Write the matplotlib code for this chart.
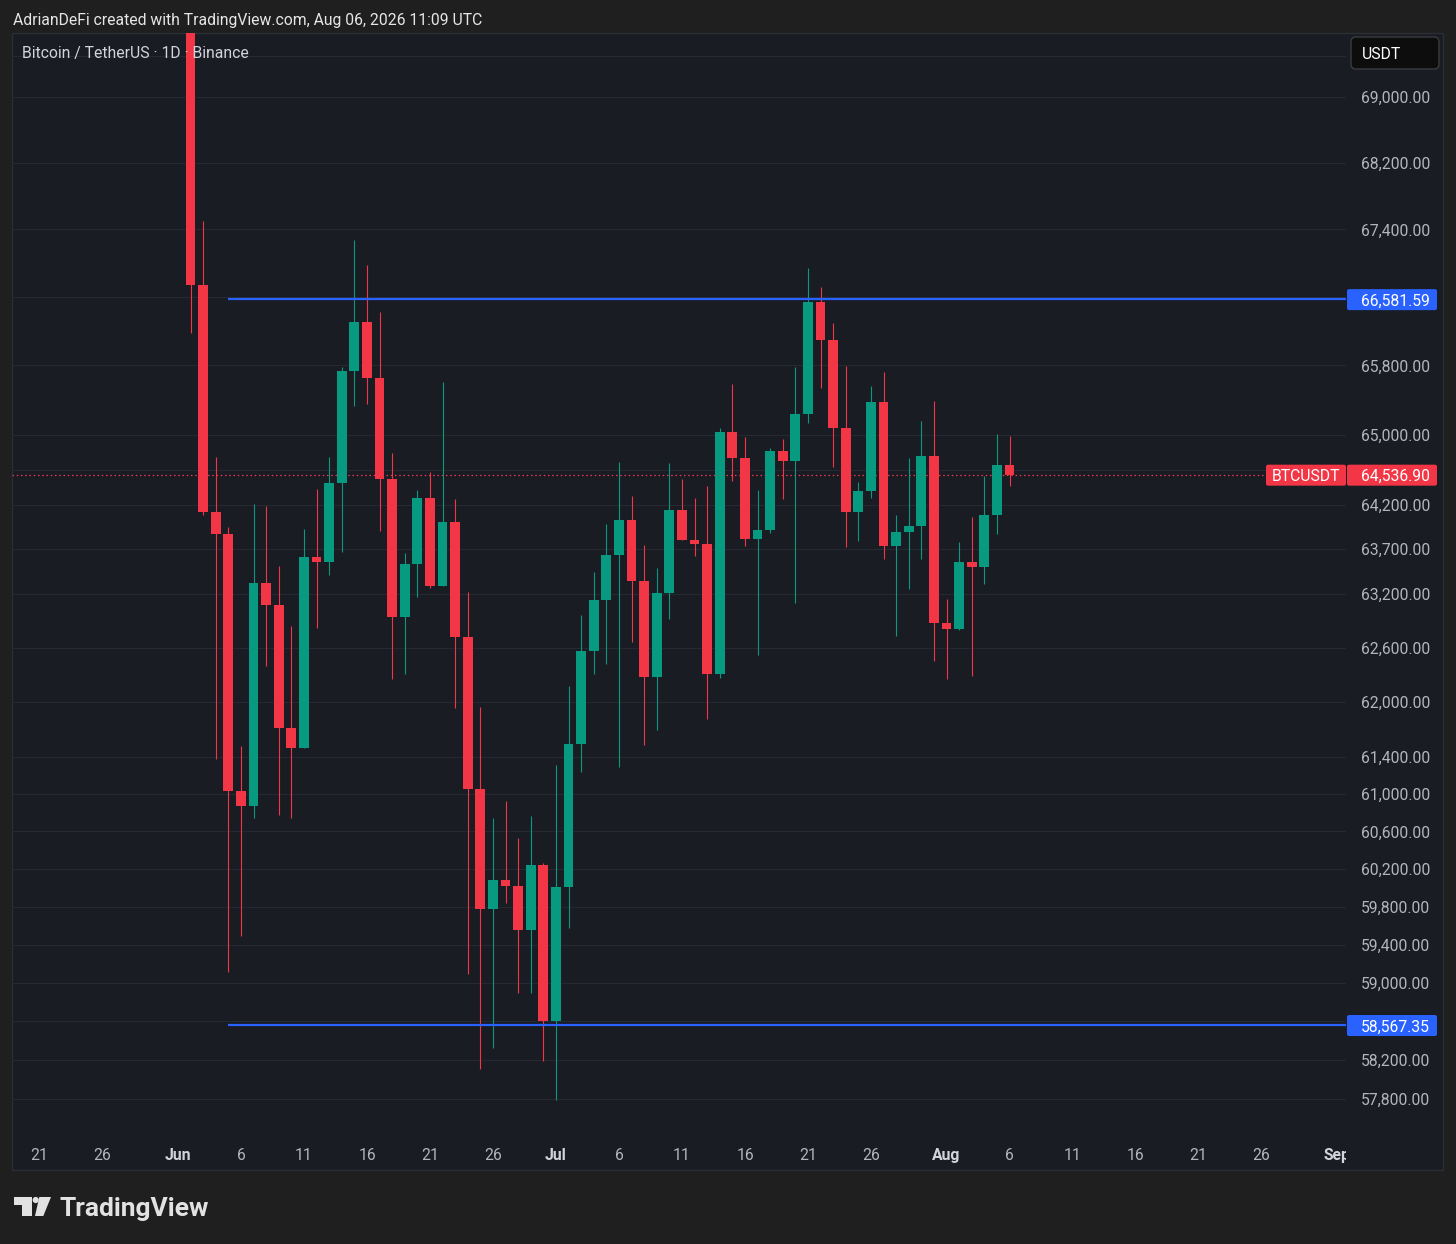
import numpy as np
import pandas as pd
import matplotlib
matplotlib.use('Agg')
import matplotlib.pyplot as plt
import matplotlib.dates as mdates
from matplotlib.patches import Rectangle, FancyBboxPatch, Polygon, Circle
from matplotlib.transforms import IdentityTransform, blended_transform_factory, offset_copy
from matplotlib.ticker import NullLocator

plt.rcParams['font.family'] = ['Roboto', 'DejaVu Sans']

# BTCUSDT daily candles, 2 Jun - 6 Aug 2026
dates = pd.date_range('2026-06-02', '2026-08-06', freq='D')
opens = np.array([
    70250, 66742, 64124, 63870, 61034, 60873, 63320, 63074, 61717, 61500,
    63611, 63560, 64444, 65733, 66307, 65658, 64493, 62936, 63532, 64281,
    63289, 64002, 62715, 61059, 59776, 60082, 60015, 59557, 60241, 58607,
    60007, 61543, 62563, 63130, 63634, 64028, 63345, 62273, 63211, 64141,
    63802, 63761, 62312, 65028, 64736, 63814, 63915, 64816, 64702, 65238,
    66539, 66097, 65080, 64122, 64360, 65379, 63738, 63896, 63963, 64759,
    62870, 62807, 63555, 63498, 64084, 64649])
highs = np.array([
    70600, 67501, 64748, 63949, 61522, 64209, 64186, 63510, 62840, 63926,
    64379, 64740, 65779, 67275, 66978, 66428, 64786, 63653, 64368, 64569,
    65605, 64262, 63222, 61947, 60745, 60927, 60530, 60766, 60260, 61315,
    62177, 62962, 63446, 63982, 64683, 64300, 63746, 63484, 64679, 64489,
    64277, 64413, 65080, 65585, 64977, 64368, 64843, 64951, 65786, 66939,
    66722, 66299, 65794, 64462, 65562, 65728, 64081, 64729, 65157, 65387,
    63137, 63777, 64065, 64527, 65008, 64982])
lows = np.array([
    66177, 64084, 61380, 59114, 59491, 60745, 62398, 60776, 60745, 61500,
    62818, 63406, 63664, 65333, 65349, 63900, 62257, 62306, 63166, 63260,
    63289, 61933, 59093, 58106, 58329, 59842, 58892, 58892, 58189, 57792,
    59578, 61236, 62314, 62420, 61297, 62660, 61532, 61696, 62917, 63802,
    63626, 61816, 62262, 64473, 63738, 62519, 63878, 64269, 63093, 65138,
    65542, 64633, 63727, 63791, 64281, 63592, 62729, 63252, 63589, 62453,
    62257, 62796, 62287, 63308, 63870, 64416])
closes = np.array([
    66742, 64124, 63870, 61034, 60873, 63320, 63074, 61717, 61500, 63611,
    63560, 64444, 65733, 66307, 65658, 64493, 62936, 63532, 64281, 63289,
    64002, 62715, 61059, 59776, 60082, 60015, 59557, 60241, 58607, 60007,
    61543, 62563, 63130, 63634, 64028, 63345, 62273, 63211, 64141, 63802,
    63761, 62312, 65028, 64736, 63814, 63915, 64816, 64702, 65238, 66539,
    66097, 65080, 64122, 64360, 65379, 63738, 63896, 63963, 64759, 62870,
    62807, 63555, 63498, 64084, 64649, 64536.9])

levels = [66581.59, 58567.35]
level_start = pd.Timestamp('2026-06-05')
last_price = 64536.90

grid_prices = [69500, 69000, 68200, 67400, 66600, 65800, 65000, 64600, 64200,
               63700, 63200, 62600, 62000, 61400, 61000, 60600, 60200, 59800,
               59400, 59000, 58600, 58200, 57800]
label_prices = [69000, 68200, 67400, 65800, 65000, 64200, 63700, 63200, 62600,
                62000, 61400, 61000, 60600, 60200, 59800, 59400, 59000, 58200,
                57800]

tick_dates = pd.to_datetime([
    '2026-05-21', '2026-05-26', '2026-06-01', '2026-06-06', '2026-06-11',
    '2026-06-16', '2026-06-21', '2026-06-26', '2026-07-01', '2026-07-06',
    '2026-07-11', '2026-07-16', '2026-07-21', '2026-07-26', '2026-08-01',
    '2026-08-06', '2026-08-11', '2026-08-16', '2026-08-21', '2026-08-26',
    '2026-09-01'])
tick_labels = ['21', '26', 'Jun', '6', '11', '16', '21', '26', 'Jul', '6', '11',
               '16', '21', '26', 'Aug', '6', '11', '16', '21', '26', 'Sep']

OUTER = '#1f1f1f'
PANEL = '#1a1c24'
GRID = '#262931'
RED = '#f23645'
GREEN = '#089981'
BLUE = '#2962ff'
AXTXT = '#b2b5be'
FS = 11.3
DY = 1.5  # visual centring of text, px

W, H = 1456, 1244
fig = plt.figure(figsize=(W / 100, H / 100), dpi=100, facecolor=OUTER)
ident = IdentityTransform()


def box(x0, y0, x1, y1, fc, ec='none', r=0, z=3):
    if r:
        p = FancyBboxPatch((x0, H - y1), x1 - x0, y1 - y0,
                           boxstyle=f'round,pad=0,rounding_size={r}',
                           fc=fc, ec=ec, lw=1, transform=ident, zorder=z)
    else:
        p = Rectangle((x0, H - y1), x1 - x0, y1 - y0, fc=fc, ec=ec, lw=1,
                      transform=ident, zorder=z)
    fig.add_artist(p)


def ftext(x, y, s, **kw):
    kw.setdefault('zorder', 5)
    if kw.get('va') == 'center':
        y = y + DY
    fig.text(x / W, 1 - y / H, s, **kw)


# chart panel
box(12, 33, 1443, 1170, PANEL, ec='#2c2e35', z=-1)

x0, x1 = 12, 1346
ytop, ybot = 33, 1137
ax = fig.add_axes([x0 / W, 1 - ybot / H, (x1 - x0) / W, (ybot - ytop) / H])
ax.set_facecolor('none')
for s in ax.spines.values():
    s.set_visible(False)
ax.set_yscale('log')
ax.set_ylim(57415, 69781)
day0 = mdates.date2num(pd.Timestamp('2026-06-01'))
ax.set_xlim(day0 - 13.17, day0 + 92.70)
ax.set_yticks(grid_prices)
ax.yaxis.set_minor_locator(NullLocator())
ax.set_xticks([])
ax.tick_params(left=False, bottom=False, labelleft=False, labelbottom=False)
ax.grid(axis='y', color=GRID, lw=0.8)

xs = mdates.date2num(dates)
up = closes >= opens
col = np.where(up, GREEN, RED)
ax.vlines(xs, lows, highs, colors=col, lw=0.8, zorder=2)
ax.bar(xs, np.abs(closes - opens), bottom=np.minimum(opens, closes),
       width=0.78, color=col, lw=0, zorder=3)

ax.axhline(last_price, color=RED, lw=0.9, ls=(0, (1.2, 2.2)), zorder=1)
ax.hlines(levels, mdates.date2num(level_start), ax.get_xlim()[1],
          colors=BLUE, lw=1.6, zorder=4)

tr = offset_copy(blended_transform_factory(ax.transAxes, ax.transData),
                 fig=fig, y=-DY, units='dots')
lab_x = (1430 - x0) / (x1 - x0)
for p in label_prices:
    ax.text(lab_x, p, f'{p:,.2f}', transform=tr, ha='right', va='center',
            color=AXTXT, fontsize=FS, clip_on=False)


def ypix(price):
    return H - ax.transData.transform((ax.get_xlim()[0], price))[1]


for lv in levels:
    yc = ypix(lv) + 1
    box(1347, yc - 10.5, 1437, yc + 10.5, BLUE, r=2)
    ftext(1430, yc, f'{lv:,.2f}', ha='right', va='center', color='white', fontsize=FS)

yc = ypix(last_price)
box(1266, yc - 10.5, 1346, yc + 10.5, RED, r=2)
ftext(1306, yc, 'BTCUSDT', ha='center', va='center', color='white', fontsize=FS)
box(1347, yc - 10.5, 1437, yc + 10.5, RED, r=2)
ftext(1430, yc, f'{last_price:,.2f}', ha='right', va='center', color='white', fontsize=FS)

# currency button
box(1351, 37, 1439, 69, '#0d0d0d', ec='#3a3b3f', r=5)
ftext(1362, 53, 'USDT', ha='left', va='center', color='white', fontsize=FS)

# time axis
axt = fig.add_axes([x0 / W, 1 - 1170 / H, (x1 - x0) / W, (1170 - ybot) / H])
axt.set_xlim(ax.get_xlim())
axt.set_ylim(0, 1)
axt.axis('off')
for d, lab in zip(tick_dates, tick_labels):
    month = not lab.isdigit()
    axt.text(mdates.date2num(d), (1170 - 1154 - DY) / (1170 - ybot), lab,
             ha='center', va='center', fontsize=FS,
             color='#d1d4dc' if month else AXTXT,
             fontweight='bold' if month else 'normal', clip_on=True)

# titles
ftext(13, 19, 'AdrianDeFi created with TradingView.com, Aug 06, 2026 11:09 UTC',
      ha='left', va='center', color='#e6e6e6', fontsize=FS)
ftext(22, 52, 'Bitcoin / TetherUS \u00b7 1D \u00b7 Binance',
      ha='left', va='center', color='#d1d4dc', fontsize=FS)

# TradingView logo
LOGO = '#e2e2e2'
tshape = [(14, 1197), (31.7, 1197), (31.7, 1216), (21.7, 1216), (21.7, 1205), (14, 1205)]
slash = [(39.3, 1197), (51, 1197), (43.3, 1216), (35, 1216)]
for pts in (tshape, slash):
    fig.add_artist(Polygon([(a, H - b) for a, b in pts], closed=True, fc=LOGO,
                           ec='none', transform=ident, zorder=5))
fig.add_artist(Circle((35.7, H - 1200), 3.1, fc=LOGO, ec='none',
                      transform=ident, zorder=5))
ftext(60, 1216, 'TradingView', ha='left', va='baseline', color=LOGO,
      fontsize=19, fontweight='bold')

fig.savefig('out.png', dpi=100, facecolor=OUTER)
